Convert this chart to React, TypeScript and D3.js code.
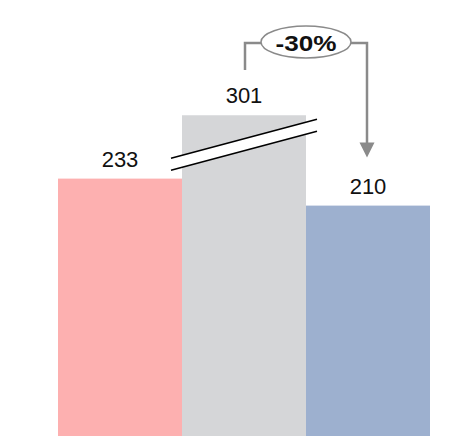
import React from "react";
import * as d3 from "d3";

const categories = ["A", "B", "C"];
const values = [233, 301, 210];
const displayValues = [233, 287, 210]; // middle bar shown on a broken axis
const colors = ["#fdb0b0", "#d5d6d8", "#9db0cf"];
const changeLabel = "-30%";

const W = 465;
const H = 436;

export default function App() {
  const x = d3.scaleBand<string>().domain(categories).range([58, 430]).padding(0);
  const y = d3.scaleLinear().domain([0, 300]).range([452, 100]);
  const bw = x.bandwidth();

  const gx = x("B")!;
  const gTop = y(displayValues[1]);
  const bx0 = gx - 11;
  const bx1 = gx + bw + 11;
  const by0 = gTop + 43;
  const by1 = gTop + 4;
  const gap = 12;

  const cxB = gx + bw / 2;
  const cxC = x("C")! + bw / 2;
  const bracketY = 43;
  const ecx = (cxB + cxC) / 2;
  const arrowTip = y(displayValues[2]) - 48;
  const grey = "#8a8a8a";

  return (
    <svg width={W} height={H} style={{ position: "absolute", left: 0, top: 0 }} fontFamily="Arial, 'Liberation Sans', sans-serif">
      <rect x={0} y={0} width={W} height={H} fill="#fff" />
      {categories.map((c, i) => (
        <rect key={c} x={x(c)!} y={y(displayValues[i])} width={bw} height={H - y(displayValues[i]) + 10} fill={colors[i]} />
      ))}
      {categories.map((c, i) => (
        <text key={"t" + c} x={x(c)! + bw / 2} y={y(displayValues[i]) - 12} textAnchor="middle" fontSize={22} fill="#111">
          {values[i]}
        </text>
      ))}
      <polygon points={`${bx0},${by0} ${bx1},${by1} ${bx1},${by1 + gap} ${bx0},${by0 + gap}`} fill="#fff" />
      <line x1={bx0} y1={by0} x2={bx1} y2={by1} stroke="#000" strokeWidth={1.6} />
      <line x1={bx0} y1={by0 + gap} x2={bx1} y2={by1 + gap} stroke="#000" strokeWidth={1.6} />
      <polyline points={`${cxB + 1},70 ${cxB + 1},${bracketY} ${ecx - 45},${bracketY}`} fill="none" stroke={grey} strokeWidth={2.5} />
      <polyline points={`${ecx + 45},${bracketY} ${cxC - 1},${bracketY} ${cxC - 1},${arrowTip - 14}`} fill="none" stroke={grey} strokeWidth={2.5} />
      <polygon points={`${cxC - 8.5},${arrowTip - 15} ${cxC + 6.5},${arrowTip - 15} ${cxC - 1},${arrowTip}`} fill={grey} />
      <ellipse cx={ecx} cy={42} rx={45} ry={16} fill="#fff" stroke={grey} strokeWidth={1.5} />
      <text x={ecx} y={51} textAnchor="middle" fontSize={22} fontWeight="bold" fill="#111" textLength={61} lengthAdjust="spacingAndGlyphs">
        {changeLabel}
      </text>
    </svg>
  );
}
